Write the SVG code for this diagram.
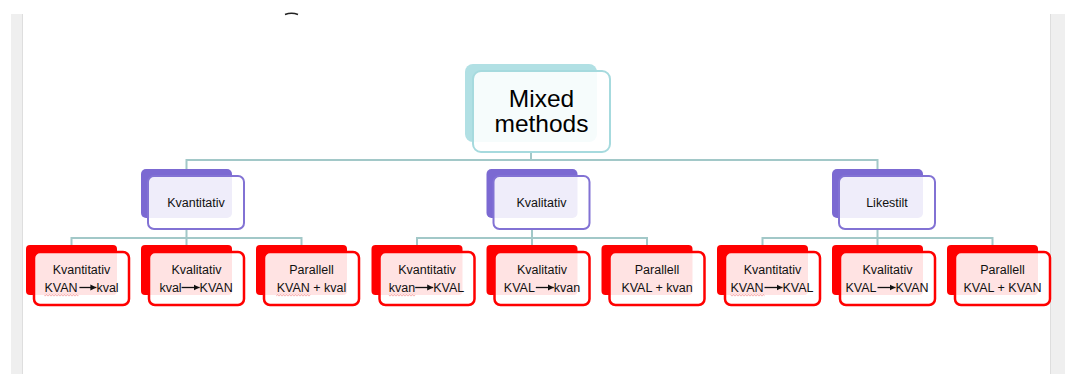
<svg xmlns="http://www.w3.org/2000/svg" width="1065" height="374" viewBox="0 0 1065 374">
<style>
.conn{fill:none;stroke:#a2c8c8;stroke-width:2}
.tb{fill:#b1e0e4}
.tf{fill:#fff;fill-opacity:0.88;stroke:#a6dade;stroke-width:2}
.pb{fill:#7b69d2}
.pf{fill:#fff;fill-opacity:0.88;stroke:#8272d4;stroke-width:2}
.rb{fill:#ff0000}
.rf{fill:#fff;fill-opacity:0.89;stroke:#ff0000;stroke-width:2.5}
.t{font-family:"Liberation Sans",Arial,sans-serif;font-size:12.5px;fill:#111}
.c{text-anchor:middle}
.big{font-family:"Liberation Sans",Arial,sans-serif;font-size:24.5px;fill:#000;text-anchor:middle}
.arr{stroke:#111;stroke-width:1.3;fill:none;marker-end:url(#ah)}
</style>
<defs>
<marker id="ah" markerUnits="userSpaceOnUse" markerWidth="7" markerHeight="7" refX="6" refY="3.5" orient="auto">
<path d="M0 0.5 L6 3.5 L0 6.5 Z" fill="#111"/>
</marker>
<pattern id="wave" patternUnits="userSpaceOnUse" width="3" height="3">
<path d="M0 2.2 L1.5 0.8 L3 2.2" fill="none" stroke="#f08080" stroke-width="0.7"/>
</pattern>
</defs>
<rect width="1065" height="374" fill="#fff"/>
<rect x="11" y="14" width="12" height="360" fill="#efefef"/>
<line x1="22.5" y1="14" x2="22.5" y2="374" stroke="#dedede"/>
<rect x="1050" y="14" width="15" height="360" fill="#efefef"/>
<line x1="1050.5" y1="14" x2="1050.5" y2="374" stroke="#dedede"/>
<path d="M285 14.5 Q291.5 12 298 14.5" fill="none" stroke="#222" stroke-width="1.5"/>

<g id="connectors">
<path class="conn" d="M531 152 V160"/>
<path class="conn" d="M186.5 169 V160 H877.5 V169"/>
<path class="conn" d="M186.5 229 V245 M71.5 245 V238 H301.5 V245"/>
<path class="conn" d="M532 229 V245 M417 245 V238 H647 V245"/>
<path class="conn" d="M877.5 229 V245 M762.5 245 V238 H992.5 V245"/>
</g>

<g id="mixed-methods">
<rect class="tb" x="465" y="64" width="132" height="78" rx="8"/>
<rect class="tf" x="473" y="71" width="137" height="81" rx="8"/>
<text class="big" x="541.5" y="107">Mixed</text>
<text class="big" x="541.5" y="132">methods</text>
</g>

<g id="kvantitativ">
<rect class="pb" x="141" y="169" width="91" height="49" rx="5"/>
<rect class="pf" x="148" y="176" width="96" height="53" rx="6"/>
<text class="t c" x="196" y="207">Kvantitativ</text>
</g>
<g id="kvalitativ">
<rect class="pb" x="486.5" y="169" width="91" height="49" rx="5"/>
<rect class="pf" x="493.5" y="176" width="96" height="53" rx="6"/>
<text class="t c" x="541.5" y="207">Kvalitativ</text>
</g>
<g id="likestilt">
<rect class="pb" x="832" y="169" width="91" height="49" rx="5"/>
<rect class="pf" x="839" y="176" width="96" height="53" rx="6"/>
<text class="t c" x="887" y="207">Likestilt</text>
</g>

<g id="leaf-1-1">
<rect class="rb" x="26" y="245" width="91" height="50" rx="4"/>
<rect class="rf" x="34" y="252" width="95" height="53" rx="6"/>
<text class="t c" x="81.5" y="274">Kvantitativ</text>
<rect x="44.4" y="293.5" width="34" height="3" fill="url(#wave)"/>
<text class="t" y="292"><tspan x="44.4">KVAN</tspan><tspan x="96.4">kval</tspan></text>
<line class="arr" x1="79.4" y1="287.5" x2="96.4" y2="287.5"/>
</g>
<g id="leaf-1-2">
<rect class="rb" x="141" y="245" width="91" height="50" rx="4"/>
<rect class="rf" x="149" y="252" width="95" height="53" rx="6"/>
<text class="t c" x="196.5" y="274">Kvalitativ</text>
<text class="t" y="292"><tspan x="159.4">kval</tspan><tspan x="199.6">KVAN</tspan></text>
<line class="arr" x1="181.6" y1="287.5" x2="199.6" y2="287.5"/>
</g>
<g id="leaf-1-3">
<rect class="rb" x="256" y="245" width="91" height="50" rx="4"/>
<rect class="rf" x="264" y="252" width="95" height="53" rx="6"/>
<text class="t c" x="311.5" y="274">Parallell</text>
<rect x="276.3" y="293.5" width="34" height="3" fill="url(#wave)"/>
<text class="t c" x="311.5" y="292">KVAN + kval</text>
</g>

<g id="leaf-2-1">
<rect class="rb" x="371.5" y="245" width="91" height="50" rx="4"/>
<rect class="rf" x="379.5" y="252" width="95" height="53" rx="6"/>
<text class="t c" x="427" y="274">Kvantitativ</text>
<rect x="388.8" y="293.5" width="26.4" height="3" fill="url(#wave)"/>
<text class="t" y="292"><tspan x="388.8">kvan</tspan><tspan x="433.2">KVAL</tspan></text>
<line class="arr" x1="415.2" y1="287.5" x2="433.2" y2="287.5"/>
</g>
<g id="leaf-2-2">
<rect class="rb" x="486.5" y="245" width="91" height="50" rx="4"/>
<rect class="rf" x="494.5" y="252" width="95" height="53" rx="6"/>
<text class="t c" x="542" y="274">Kvalitativ</text>
<text class="t" y="292"><tspan x="503.8">KVAL</tspan><tspan x="553.8">kvan</tspan></text>
<line class="arr" x1="535.8" y1="287.5" x2="553.8" y2="287.5"/>
</g>
<g id="leaf-2-3">
<rect class="rb" x="601.5" y="245" width="91" height="50" rx="4"/>
<rect class="rf" x="609.5" y="252" width="95" height="53" rx="6"/>
<text class="t c" x="657" y="274">Parallell</text>
<text class="t c" x="657" y="292">KVAL + kvan</text>
</g>

<g id="leaf-3-1">
<rect class="rb" x="717" y="245" width="91" height="50" rx="4"/>
<rect class="rf" x="725" y="252" width="95" height="53" rx="6"/>
<text class="t c" x="772.5" y="274">Kvantitativ</text>
<rect x="730.5" y="293.5" width="34" height="3" fill="url(#wave)"/>
<text class="t" y="292"><tspan x="730.5">KVAN</tspan><tspan x="782.5">KVAL</tspan></text>
<line class="arr" x1="764.5" y1="287.5" x2="782.5" y2="287.5"/>
</g>
<g id="leaf-3-2">
<rect class="rb" x="832" y="245" width="91" height="50" rx="4"/>
<rect class="rf" x="840" y="252" width="95" height="53" rx="6"/>
<text class="t c" x="887.5" y="274">Kvalitativ</text>
<text class="t" y="292"><tspan x="845.5">KVAL</tspan><tspan x="895.5">KVAN</tspan></text>
<line class="arr" x1="877.5" y1="287.5" x2="895.5" y2="287.5"/>
</g>
<g id="leaf-3-3">
<rect class="rb" x="947" y="245" width="91" height="50" rx="4"/>
<rect class="rf" x="955" y="252" width="95" height="53" rx="6"/>
<text class="t c" x="1002.5" y="274">Parallell</text>
<text class="t c" x="1002.5" y="292">KVAL + KVAN</text>
</g>
</svg>
